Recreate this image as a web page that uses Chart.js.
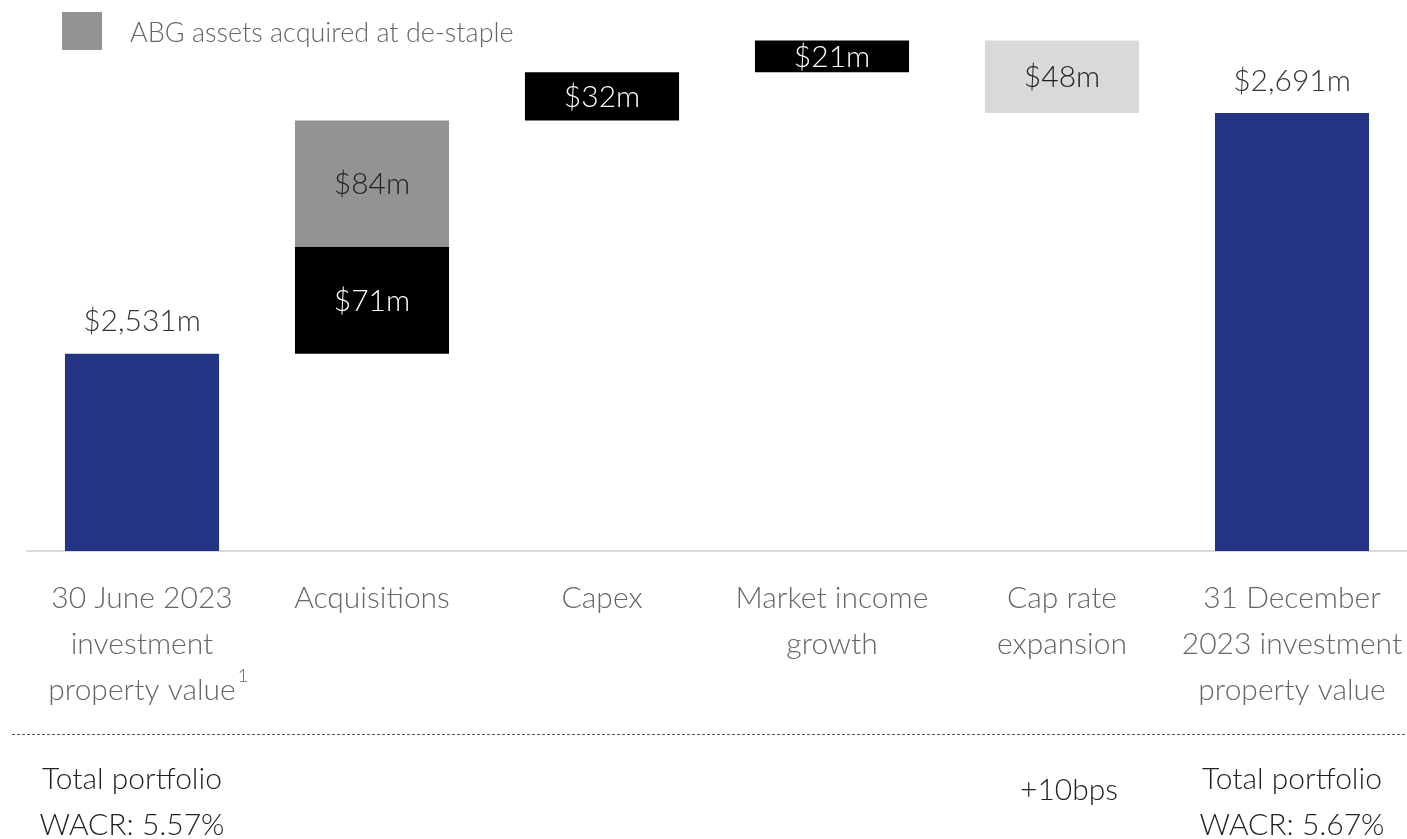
<!DOCTYPE html>
<html>
<head>
<meta charset="utf-8">
<script src="https://cdn.jsdelivr.net/npm/chart.js@4"></script>
<style>
  html, body { margin: 0; padding: 0; background: #fff; }
  #wrap { width: 1407px; height: 839px; }
</style>
</head>
<body>
<div id="wrap"><canvas id="bridge"></canvas></div>
<script>
'use strict'

// data ($m)
const categories = [
  ['30 June 2023', 'investment', 'property value'],
  ['Acquisitions'],
  ['Capex'],
  ['Market income', 'growth'],
  ['Cap rate', 'expansion'],
  ['31 December', '2023 investment', 'property value']
];
const openingValue = 2531;
const closingValue = 2691;
const movements = [null, 71, 32, 21, -48, null];
const abgAssets = [null, 84, null, null, null, null];
const legendLabel = 'ABG assets acquired at de-staple';
const bottomNotes = [['Total portfolio', 'WACR: 5.57%'], null, null, null, ['+10bps'], ['Total portfolio', 'WACR: 5.67%']];

const FONT = 'Lato, "Open Sans", sans-serif';
const NAVY = '#233485';

// build floating bars
const mainBars = [];
const abgBars = [];
let running = openingValue;
categories.forEach((c, i) => {
  if (i === 0) { mainBars.push(openingValue); abgBars.push(null); return; }
  if (i === categories.length - 1) { mainBars.push(closingValue); abgBars.push(null); return; }
  const start = running;
  running += movements[i];
  mainBars.push([start, running]);
  if (abgAssets[i] != null) {
    abgBars.push([running, running + abgAssets[i]]);
    running += abgAssets[i];
  } else {
    abgBars.push(null);
  }
});

const mainColors = [NAVY, '#000000', '#000000', '#000000', '#d9d9d9', NAVY];
const mainLabelColors = ['#333333', '#ffffff', '#ffffff', '#ffffff', '#222222', '#333333'];

function money(v) {
  return '$' + Math.abs(v).toLocaleString('en-US') + 'm';
}

const labelPlugin = {
  id: 'labels',
  afterDatasetsDraw(chart) {
    const ctx = chart.ctx;
    ctx.save();
    ctx.textAlign = 'center';
    ctx.textBaseline = 'middle';
    ctx.font = '300 30px ' + FONT;
    const last = categories.length - 1;
    chart.getDatasetMeta(0).data.forEach((bar, i) => {
      const top = Math.min(bar.y, bar.base);
      const bottom = Math.max(bar.y, bar.base);
      ctx.fillStyle = mainLabelColors[i];
      if (i === 0 || i === last) {
        ctx.fillText(money(mainBars[i]), bar.x, top - 32);
      } else {
        ctx.fillText(money(movements[i]), bar.x, (top + bottom) / 2 + 1);
      }
    });
    chart.getDatasetMeta(1).data.forEach((bar, i) => {
      if (abgAssets[i] == null) return;
      const top = Math.min(bar.y, bar.base);
      const bottom = Math.max(bar.y, bar.base);
      ctx.fillStyle = '#222222';
      ctx.fillText(money(abgAssets[i]), bar.x, (top + bottom) / 2 + 1);
    });
    ctx.restore();
  },
  afterDraw(chart) {
    const ctx = chart.ctx;
    const xs = chart.scales.x;
    ctx.save();
    // legend
    ctx.fillStyle = '#939393';
    ctx.fillRect(62, 12, 40, 38);
    ctx.font = '300 27px ' + FONT;
    ctx.fillStyle = '#666666';
    ctx.textBaseline = 'middle';
    ctx.textAlign = 'left';
    ctx.fillText(legendLabel, 130, 33);
    // superscript on first category
    ctx.font = '300 30px ' + FONT;
    const w = ctx.measureText('property value').width;
    ctx.font = '300 18px ' + FONT;
    ctx.fillText('1', xs.getPixelForTick(0) + w / 2 + 2, 676);
    // dotted divider
    ctx.strokeStyle = '#555555';
    ctx.lineWidth = 1;
    ctx.setLineDash([3, 2]);
    ctx.beginPath();
    ctx.moveTo(12, 734.5);
    ctx.lineTo(1407, 734.5);
    ctx.stroke();
    ctx.setLineDash([]);
    // notes under the divider
    ctx.font = '300 30px ' + FONT;
    ctx.fillStyle = '#222222';
    ctx.textAlign = 'center';
    const shift = [-10, 0, 0, 0, 7, 0];
    bottomNotes.forEach((lines, i) => {
      if (!lines) return;
      const x = xs.getPixelForTick(i) + shift[i];
      if (lines.length === 1) {
        ctx.fillText(lines[0], x, 790);
      } else {
        lines.forEach((t, j) => ctx.fillText(t, x, 779 + j * 46));
      }
    });
    ctx.restore();
  }
};

const ctx = document.getElementById('bridge').getContext('2d');
const bridgeChart = new Chart(ctx, {
  type: 'bar',
  data: {
    labels: categories,
    datasets: [
      {
        label: 'Movement',
        data: mainBars,
        backgroundColor: mainColors,
        borderWidth: 0,
        barPercentage: 1,
        categoryPercentage: 0.67
      },
      {
        label: legendLabel,
        data: abgBars,
        backgroundColor: '#939393',
        borderWidth: 0,
        barPercentage: 1,
        categoryPercentage: 0.67
      }
    ]
  },
  options: {
    responsive: true,
    maintainAspectRatio: false,
    animation: false,
    layout: { padding: { left: 27, right: 0, top: 9, bottom: 0 } },
    plugins: {
      legend: { display: false },
      tooltip: { enabled: false }
    },
    scales: {
      x: {
        stacked: true,
        grid: { display: false, drawTicks: false },
        border: { display: true, color: '#d9d9d9', width: 2 },
        ticks: {
          color: '#666666',
          padding: 24,
          maxRotation: 0,
          autoSkip: false,
          font: { family: FONT, size: 30, weight: '300', lineHeight: 46 / 30 }
        },
        afterFit(scale) {
          scale.height = 288;
          scale.paddingLeft = 0;
          scale.paddingRight = 0;
        }
      },
      y: {
        display: false,
        stacked: false,
        min: 2400,
        max: 2760
      }
    }
  },
  plugins: [labelPlugin]
});
</script>
</body>
</html>
